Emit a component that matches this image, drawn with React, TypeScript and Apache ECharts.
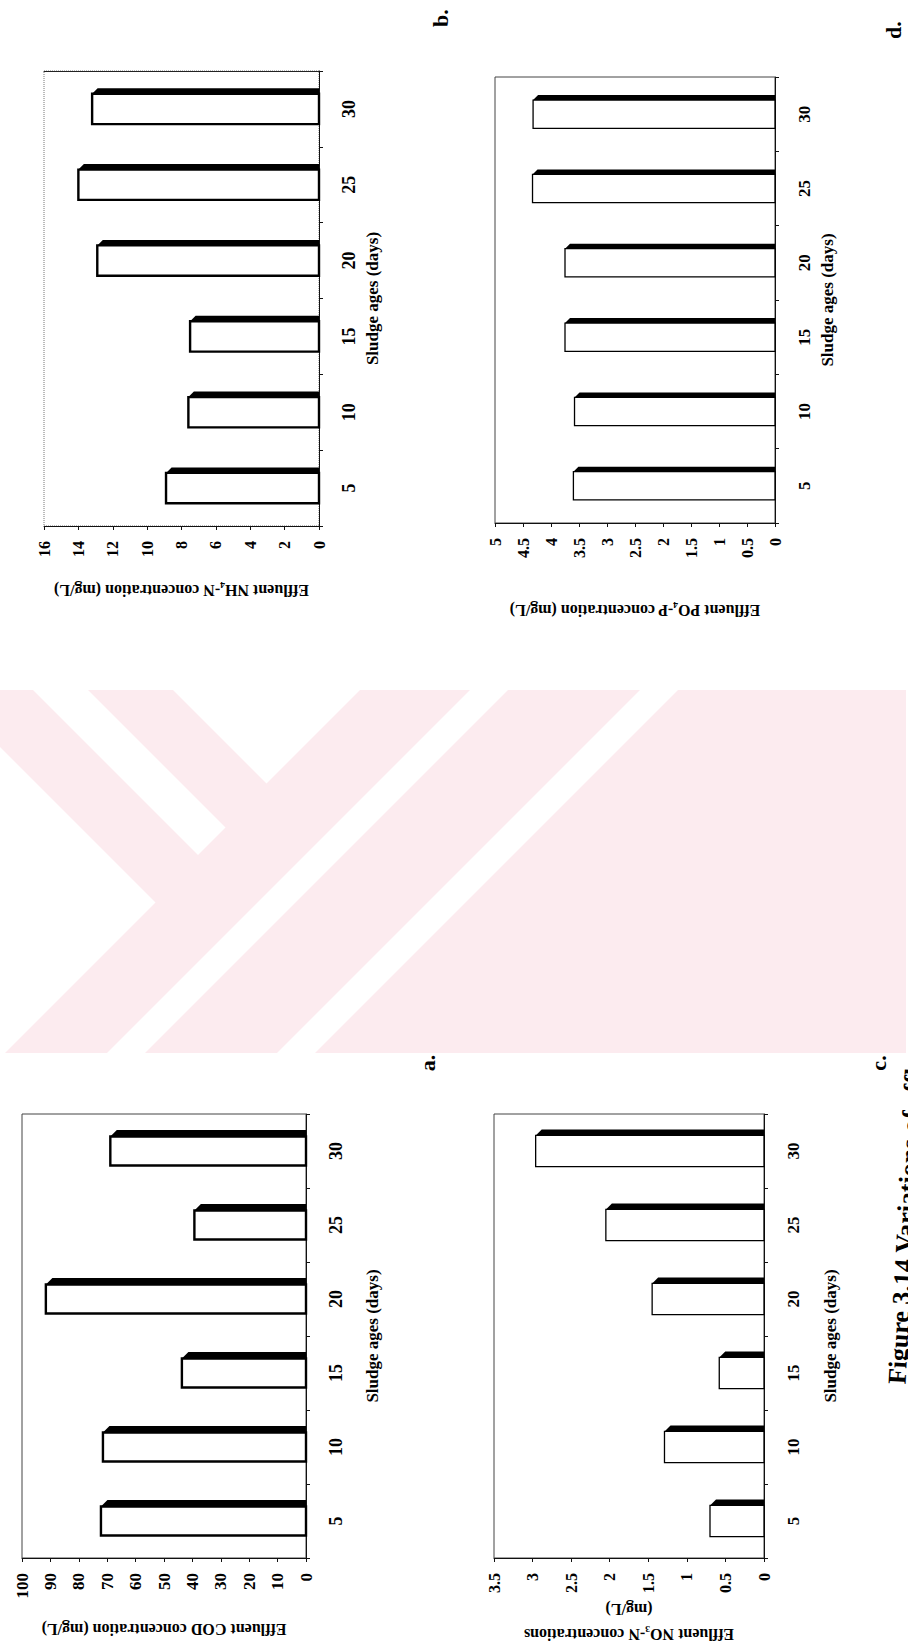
import React, { useEffect, useRef } from "react";
import * as echarts from "echarts";

// ---------- data ----------
const sludgeAges = ["5", "10", "15", "20", "25", "30"];
const codValues = [72.2, 71.5, 43.7, 91.6, 39.3, 68.9];
const nh4Values = [8.9, 7.6, 7.5, 12.9, 14.0, 13.2];
const no3Values = [0.7, 1.29, 0.58, 1.45, 2.05, 2.96];
const po4Values = [3.6, 3.58, 3.75, 3.75, 4.33, 4.32];

const codScale = { max: 100, interval: 10 };
const nh4Scale = { max: 16, interval: 2 };
const no3Scale = { max: 3.5, interval: 0.5 };
const po4Scale = { max: 5, interval: 0.5 };

const codTitle = "Effluent COD concentration (mg/L)";
const nh4Title = "Effluent NH\u2084-N concentration (mg/L)";
const no3Title = "Effluent NO\u2083-N concentrations\n(mg/L)";
const po4Title = "Effluent PO\u2084-P concentration (mg/L)";
const categoryTitle = "Sludge ages (days)";
const caption =
  "Figure 3.14 Variations of effluent concentrations with sludge ages: a. COD, b. NH\u2084-N, c. NO\u2083-N, d. PO\u2084-P";

// ---------- layout ----------
const W = 908;
const H = 1652;
const FONT = "'Liberation Serif', 'Times New Roman', serif";

type Panel = {
  values: number[];
  scale: { max: number; interval: number };
  title: string;
  grid: { left: number; top: number; width: number; height: number };
  xNameGap: number;
  yNameGap: number;
  valueFont: number;
  catFont: number;
  bodyRatio: number;
  depth: number;
  lw: number;
  borderType: string;
  borderColor: string;
  nameLineHeight: number;
  solidTop: boolean;
};

const panels: Panel[] = [
  {
    values: codValues, scale: codScale, title: codTitle,
    grid: { left: 22, top: 1114, width: 284, height: 444 },
    xNameGap: 59, yNameGap: 58, valueFont: 17, catFont: 18,
    bodyRatio: 0.39, depth: 6.5, lw: 2.4, borderType: "solid", borderColor: "#444",
    nameLineHeight: 24, solidTop: false,
  },
  {
    values: nh4Values, scale: nh4Scale, title: nh4Title,
    grid: { left: 44, top: 71, width: 275, height: 455 },
    xNameGap: 52, yNameGap: 45, valueFont: 16, catFont: 18,
    bodyRatio: 0.4, depth: 5.5, lw: 2.4, borderType: "dotted", borderColor: "#777",
    nameLineHeight: 24, solidTop: true,
  },
  {
    values: no3Values, scale: no3Scale, title: no3Title,
    grid: { left: 494, top: 1114, width: 270, height: 444 },
    xNameGap: 38, yNameGap: 58, valueFont: 16, catFont: 17,
    bodyRatio: 0.42, depth: 6, lw: 1.3, borderType: "solid", borderColor: "#444",
    nameLineHeight: 25, solidTop: false,
  },
  {
    values: po4Values, scale: po4Scale, title: po4Title,
    grid: { left: 495, top: 77, width: 280, height: 446 },
    xNameGap: 75, yNameGap: 44, valueFont: 16, catFont: 17,
    bodyRatio: 0.38, depth: 5, lw: 1.3, borderType: "solid", borderColor: "#444",
    nameLineHeight: 24, solidTop: false,
  },
];

// ---------- watermark helpers ----------
type Pt = [number, number];
type HalfPlane = [number, number, number]; // a*x + b*y <= c
const WM = { x0: 0, y0: 690, x1: 906, y1: 1053 };

function clipPoly(poly: Pt[], hp: HalfPlane): Pt[] {
  const [a, b, c] = hp;
  const out: Pt[] = [];
  for (let i = 0; i < poly.length; i++) {
    const p = poly[i];
    const q = poly[(i + 1) % poly.length];
    const fp = a * p[0] + b * p[1] - c;
    const fq = a * q[0] + b * q[1] - c;
    if (fp <= 0) out.push(p);
    if ((fp < 0 && fq > 0) || (fp > 0 && fq < 0)) {
      const t = fp / (fp - fq);
      out.push([p[0] + t * (q[0] - p[0]), p[1] + t * (q[1] - p[1])]);
    }
  }
  return out;
}
function region(hps: HalfPlane[]): Pt[] {
  let poly: Pt[] = [
    [WM.x0, WM.y0], [WM.x1, WM.y0], [WM.x1, WM.y1], [WM.x0, WM.y1],
  ];
  for (const hp of hps) poly = clipPoly(poly, hp);
  return poly;
}
const whiteCuts: HalfPlane[][] = [
  [[-1, 1, 657], [1, -1, -602], [1, 1, 1053]],
  [[-1, 1, 517], [1, 1, 1050]],
  [[1, -1, -747], [1, 1, 1058]],
  [[-1, -1, -1160], [1, 1, 1198]],
  [[-1, -1, -1330], [1, 1, 1368]],
];

function makeRenderItem(p: Panel) {
  return (params: any, api: any) => {
    const v = api.value(0);
    const c = api.value(1);
    const end = api.coord([v, c]);
    const start = api.coord([0, c]);
    const band = api.size([0, 1])[1];
    const h = band * p.bodyRatio;
    const top = end[1] - h / 2;
    const d = p.depth;
    return {
      type: "group",
      children: [
        {
          type: "polygon",
          shape: {
            points: [
              [end[0], top],
              [end[0] + d, top - d],
              [start[0], top - d],
              [start[0], top],
            ],
          },
          style: { fill: "#000" },
        },
        {
          type: "rect",
          shape: { x: end[0], y: top, width: start[0] - end[0], height: h },
          style: { fill: "#fff", stroke: "#000", lineWidth: p.lw },
        },
      ],
    };
  };
}

export default function App() {
  const ref = useRef<HTMLDivElement>(null);
  useEffect(() => {
    if (!ref.current) return;
    const chart = echarts.init(ref.current, undefined, { renderer: "svg", width: W, height: H });

    const textBase = { fontFamily: FONT, fontWeight: "bold" as const, color: "#000" };

    const grids = panels.map((p) => ({
      ...p.grid,
      show: true,
      borderColor: p.borderColor,
      borderWidth: 1,
      borderType: p.borderType,
      containLabel: false,
    }));

    const xAxes: any[] = panels.map((p, i) => ({
      type: "value",
      gridIndex: i,
      min: 0,
      max: p.scale.max,
      interval: p.scale.interval,
      inverse: true,
      position: "bottom",
      splitLine: { show: false },
      axisLine: { show: true, lineStyle: { color: "#111", width: 1 } },
      axisTick: { show: true, length: 4, lineStyle: { color: "#111" } },
      axisLabel: { ...textBase, fontSize: p.valueFont, rotate: 90, margin: 15 },
      name: p.title,
      nameLocation: "middle",
      nameRotate: 180,
      nameGap: p.xNameGap,
      nameTextStyle: { ...textBase, fontSize: 16, lineHeight: p.nameLineHeight },
    }));
    // solid top frame line where the scan shows one
    panels.forEach((p, i) => {
      if (!p.solidTop) return;
      xAxes.push({
        type: "value",
        gridIndex: i,
        min: 0,
        max: p.scale.max,
        interval: p.scale.interval,
        inverse: true,
        position: "top",
        splitLine: { show: false },
        axisLine: { show: true, lineStyle: { color: "#222", width: 1 } },
        axisTick: { show: false },
        axisLabel: { show: false },
      });
    });

    const yAxes = panels.map((p, i) => ({
      type: "category",
      gridIndex: i,
      position: "right",
      data: sludgeAges,
      axisLine: { show: true, lineStyle: { color: "#111", width: 1 } },
      axisTick: { show: true, length: 4, alignWithLabel: false, lineStyle: { color: "#111" } },
      axisLabel: { ...textBase, fontSize: p.catFont, rotate: 90, margin: 21 },
      splitLine: { show: false },
      name: categoryTitle,
      nameLocation: "middle",
      nameRotate: 90,
      nameGap: p.yNameGap,
      nameTextStyle: { ...textBase, fontSize: 17 },
    }));

    const series = panels.map((p, i) => ({
      type: "custom",
      xAxisIndex: i,
      yAxisIndex: i,
      data: p.values.map((v, idx) => [v, idx]),
      encode: { x: 0, y: 1 },
      renderItem: makeRenderItem(p),
      clip: false,
      silent: true,
      z: 3,
    }));

    const pink = "#fcebef";
    const watermark: any[] = [
      {
        type: "rect",
        z: -10,
        silent: true,
        shape: { x: WM.x0, y: WM.y0, width: WM.x1 - WM.x0, height: WM.y1 - WM.y0 },
        style: { fill: pink },
      },
      ...whiteCuts.map((hps) => ({
        type: "polygon",
        z: -9,
        silent: true,
        shape: { points: region(hps) },
        style: { fill: "#fff" },
      })),
    ];

    const letter = (t: string, x: number, y: number) => ({
      type: "text",
      x,
      y,
      rotation: Math.PI / 2,
      style: {
        text: t,
        font: `bold 22px ${FONT}`,
        fill: "#000",
        textAlign: "center",
        textVerticalAlign: "middle",
      },
    });

    chart.setOption({
      animation: false,
      backgroundColor: "#fff",
      grid: grids,
      xAxis: xAxes,
      yAxis: yAxes,
      series,
      graphic: [
        ...watermark,
        letter("a.", 427, 1063),
        letter("b.", 440, 18),
        letter("c.", 878, 1063),
        letter("d.", 893, 30),
        {
          type: "text",
          x: 897,
          y: 1384,
          rotation: Math.PI / 2 - 0.055,
          style: {
            text: caption,
            font: `bold 26px ${FONT}`,
            fill: "#000",
            textAlign: "left",
            textVerticalAlign: "middle",
          },
        },
      ],
    });
    return () => chart.dispose();
  }, []);
  return (
    <div
      ref={ref}
      style={{ position: "absolute", left: 0, top: 0, width: W, height: H, background: "#fff" }}
    />
  );
}
